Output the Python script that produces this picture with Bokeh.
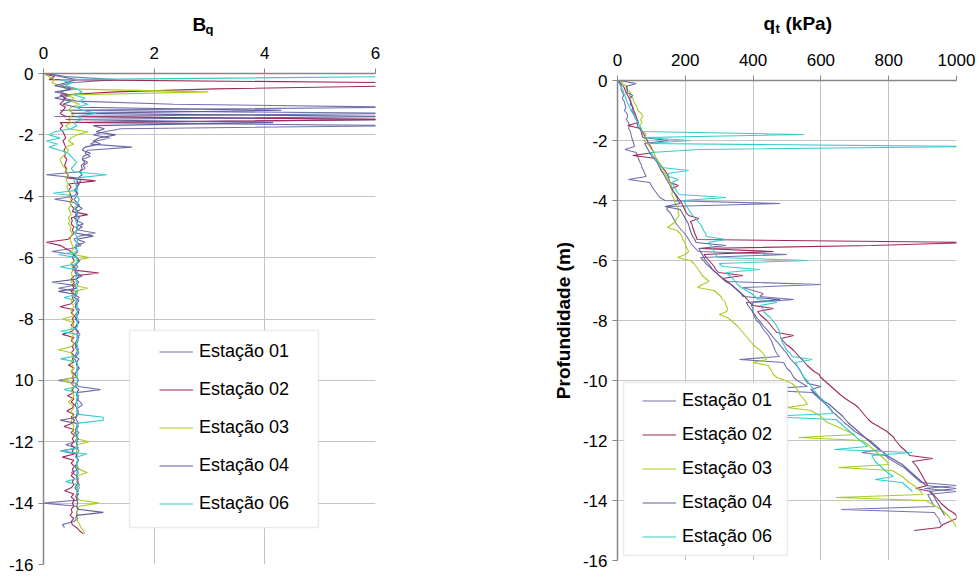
from bokeh.plotting import figure
from bokeh.layouts import row, column
from bokeh.models import Range1d, FixedTicker, Legend, LegendItem, Label, BoxAnnotation
from bokeh.embed import file_html
from bokeh.resources import INLINE

# ---------------- data ----------------
STATIONS = ["Estação 01", "Estação 02", "Estação 03", "Estação 04", "Estação 06"]

DEPTH_M = [
    0.0, 0.1, 0.2, 0.3, 0.4, 0.5, 0.6, 0.7, 0.8, 0.9,
    1.0, 1.1, 1.2, 1.3, 1.4, 1.5, 1.6, 1.7, 1.8, 1.9,
    2.0, 2.1, 2.2, 2.3, 2.4, 2.5, 2.6, 2.7, 2.8, 2.9,
    3.0, 3.1, 3.2, 3.3, 3.4, 3.5, 3.6, 3.7, 3.8, 3.9,
    4.0, 4.1, 4.2, 4.3, 4.4, 4.5, 4.6, 4.7, 4.8, 4.9,
    5.0, 5.1, 5.2, 5.3, 5.4, 5.5, 5.6, 5.7, 5.8, 5.9,
    6.0, 6.1, 6.2, 6.3, 6.4, 6.5, 6.6, 6.7, 6.8, 6.9,
    7.0, 7.1, 7.2, 7.3, 7.4, 7.5, 7.6, 7.7, 7.8, 7.9,
    8.0, 8.1, 8.2, 8.3, 8.4, 8.5, 8.6, 8.7, 8.8, 8.9,
    9.0, 9.1, 9.2, 9.3, 9.4, 9.5, 9.6, 9.7, 9.8, 9.9,
    10.0, 10.1, 10.2, 10.3, 10.4, 10.5, 10.6, 10.7, 10.8, 10.9,
    11.0, 11.1, 11.2, 11.3, 11.4, 11.5, 11.6, 11.7, 11.8, 11.9,
    12.0, 12.1, 12.2, 12.3, 12.4, 12.5, 12.6, 12.7, 12.8, 12.9,
    13.0, 13.1, 13.2, 13.3, 13.4, 13.5, 13.6, 13.7, 13.8, 13.9,
    14.0, 14.1, 14.2, 14.3, 14.4, 14.5, 14.6, 14.7, 14.8, 14.9,
    15.0,
]

# Bq (pore pressure ratio) per station
BQ_01 = [
    0.05, 0.4, 1.3, 0.5, 0.3, 0.6, 0.2, 0.5, 0.35, 0.6,
    2.35, 6.5, 0.3, 6.5, 0.2, 6.5, 0.8, 6.5, 1.4, 1.1,
    0.9, 1.2, 0.95, 0.85, 1.6, 0.8, 0.75, 0.85, 0.7, 0.8,
    0.72, 0.75, 0.65, 0.05, 0.6, 0.68, 0.6, 0.62, 0.55, 0.6,
    0.55, 0.2, 0.55, 0.62, 0.7, 0.6, 0.58, 0.65, 0.6, 0.72,
    0.58, 0.62, 0.94, 0.65, 0.55, 0.6, 0.68, 0.5, 0.15, 0.55,
    0.6, 0.66, 0.58, 0.62, 0.55, 0.6, 0.7, 0.58, 0.64, 0.55,
    0.27, 0.6, 0.56, 0.64, 0.6, 0.57, 0.6, 0.65, 0.6, 0.56,
    0.6, 0.64, 0.6, 0.57, 0.6, 0.66, 0.6, 0.63, 0.6, 0.57,
    0.6, 0.64, 0.6, 0.56, 0.6, 0.6, 0.65, 0.6, 0.57, 0.6,
    0.27, 0.6, 0.63, 1.03, 0.6, 0.64, 0.6, 0.66, 0.7, 0.62,
    0.6, 0.64, 0.57, 0.6, 0.63, 0.6, 0.58, 0.64, 0.6, 0.6,
    0.57, 0.4, 0.6, 0.64, 0.6, 0.58, 0.63, 0.6, 0.6, 0.64,
    0.5, 0.6, 0.63, 0.6, 0.65, 0.6, 0.63, 0.6, 0.58, 0.63,
    0.0, 0.6, 0.63, 0.6, 0.6, 0.62, 0.55, 0.34, 0.38,
]
BQ_02 = [
    0.0, 0.2, 0.1, 6.5, 6.5, 3.1, 1.3, 0.3, 0.4, 0.35,
    0.3, 0.4, 0.35, 0.3, 0.4, 6.5, 0.3, 0.35, 0.3, 0.35,
    0.38, 0.4, 0.35, 0.38, 0.4, 0.37, 0.4, 0.38, 0.42, 0.4,
    0.38, 0.42, 0.4, 0.45, 0.42, 0.94, 0.45, 0.5, 0.45, 0.48,
    0.5, 0.52, 0.48, 0.5, 0.55, 0.52, 0.8, 0.5, 0.52, 0.5,
    0.55, 0.52, 0.55, 0.5, 0.45, 0.05, 0.3, 0.4, 0.5, 0.55,
    0.52, 0.56, 0.5, 0.55, 0.52, 1.0, 0.55, 0.5, 0.56, 0.52,
    0.55, 0.5, 0.56, 0.52, 0.55, 0.5, 0.3, 0.55, 0.5, 0.56,
    0.52, 0.55, 0.5, 0.56, 0.52, 0.34, 0.55, 0.5, 0.56, 0.52,
    0.55, 0.5, 0.56, 0.52, 0.55, 0.45, 0.55, 0.5, 0.56, 0.52,
    0.55, 0.5, 0.56, 0.52, 0.55, 0.43, 0.55, 0.5, 0.56, 0.52,
    0.42, 0.55, 0.5, 0.56, 0.52, 0.37, 0.55, 0.5, 0.56, 0.52,
    0.55, 0.5, 0.56, 0.52, 0.55, 0.34, 0.55, 0.5, 0.56, 0.52,
    0.55, 0.5, 0.56, 0.52, 0.55, 0.5, 0.38, 0.55, 0.5, 0.56,
    0.52, 0.55, 0.5, 0.52, 0.48, 0.55, 0.5, 0.52, 0.6, 0.65,
    0.72,
]
BQ_03 = [
    0.0, 0.1, 0.2, 0.15, 0.3, 0.4, 2.98, 0.4, 0.55, 0.5,
    0.65, 0.5, 0.45, 0.55, 0.5, 0.45, 0.5, 0.4, 0.45, 0.8,
    0.6, 0.5, 0.45, 0.55, 0.4, 0.45, 0.4, 0.35, 0.3, 0.32,
    0.35, 0.4, 0.42, 0.45, 0.4, 0.42, 0.45, 0.42, 0.45, 0.48,
    0.45, 0.5, 0.48, 0.5, 0.45, 0.48, 0.5, 0.45, 0.48, 0.45,
    0.5, 0.48, 0.52, 0.5, 0.48, 0.5, 0.52, 0.55, 0.5, 0.55,
    0.82, 0.55, 0.5, 0.52, 0.55, 0.5, 0.52, 0.55, 0.5, 0.55,
    0.8, 0.55, 0.52, 0.55, 0.5, 0.52, 0.55, 0.5, 0.52, 0.55,
    0.34, 0.52, 0.55, 0.5, 0.52, 0.55, 0.5, 0.52, 0.55, 0.5,
    0.27, 0.5, 0.52, 0.55, 0.5, 0.52, 0.55, 0.5, 0.52, 0.55,
    0.34, 0.52, 0.55, 0.5, 0.52, 0.55, 0.52, 0.45, 0.52, 0.55,
    0.5, 0.52, 0.55, 0.5, 0.52, 0.55, 0.52, 0.55, 0.58, 0.6,
    0.82, 0.6, 0.58, 0.6, 0.62, 0.6, 0.62, 0.6, 0.62, 0.65,
    0.79, 0.62, 0.6, 0.62, 0.6, 0.62, 0.6, 0.62, 0.6, 0.65,
    1.0, 0.65, 0.62, 0.6, 0.62, 0.6, 0.62, 0.65, 0.68, 0.72,
    0.75,
]
BQ_04 = [
    0.05, 0.3, 0.6, 0.4, 0.2, 0.5, 0.3, 0.45, 0.2, 0.5,
    0.35, 0.6, 4.3, 0.5, 6.5, 0.4, 4.15, 0.9, 1.1, 0.95,
    1.3, 1.0, 0.9, 1.03, 0.75, 0.7, 0.85, 0.72, 0.7, 0.75,
    0.68, 0.7, 0.65, 0.7, 0.62, 0.6, 0.65, 0.6, 0.58, 0.62,
    0.6, 0.55, 0.6, 0.65, 0.58, 0.62, 0.6, 0.55, 0.62, 0.6,
    0.7, 0.6, 0.58, 0.9, 0.6, 0.75, 0.6, 0.58, 0.62, 0.55,
    0.6, 0.64, 0.6, 0.55, 0.6, 0.57, 0.64, 0.6, 0.15, 0.55,
    0.6, 0.27, 0.6, 0.56, 0.64, 0.6, 0.57, 0.6, 0.64, 0.6,
    0.57, 0.64, 0.6, 0.56, 0.63, 0.6, 0.64, 0.6, 0.57, 0.6,
    0.63, 0.6, 0.57, 0.64, 0.6, 0.6, 0.63, 0.6, 0.57, 0.6,
    0.63, 0.6, 0.57, 0.64, 0.6, 0.6, 0.63, 0.6, 0.57, 0.6,
    0.63, 0.6, 0.6, 0.3, 0.6, 0.63, 0.6, 0.57, 0.6, 0.63,
    0.6, 0.6, 0.63, 0.31, 0.6, 0.6, 0.63, 0.6, 0.57, 0.6,
    0.63, 0.6, 0.6, 0.63, 0.6, 0.57, 0.6, 0.63, 0.6, 0.6,
    0.62, 0.6, 0.62, 1.08, 0.6, 0.58,
]
BQ_06 = [
    6.5, 6.5, 0.3, 0.5, 0.4, 0.6, 0.7, 0.55, 0.75, 0.65,
    0.8, 0.6, 0.7, 0.95, 0.6, 0.7, 0.55, 0.6, 0.5, 0.2,
    0.1, 0.3, 0.05, 0.25, 0.1, 0.3, 0.45, 0.5, 0.55, 0.6,
    0.55, 0.5, 0.55, 1.14, 0.6, 0.55, 0.58, 0.6, 0.62, 0.18,
    0.6, 0.65, 0.62, 0.6, 0.55, 0.6, 0.62, 0.6, 0.58, 0.6,
    0.62, 0.6, 0.55, 0.6, 0.62, 0.6, 0.58, 0.6, 0.62, 0.27,
    0.6, 0.62, 0.6, 0.3, 0.6, 0.62, 0.6, 0.58, 0.6, 0.62,
    0.6, 0.62, 0.6, 0.37, 0.6, 0.62, 0.6, 0.62, 0.6, 0.6,
    0.62, 0.6, 0.62, 0.6, 0.31, 0.6, 0.62, 0.6, 0.6, 0.62,
    0.6, 0.62, 0.6, 0.31, 0.6, 0.62, 0.6, 0.6, 0.62, 0.6,
    0.62, 0.6, 0.6, 0.37, 0.6, 0.62, 0.6, 0.6, 0.62, 0.6,
    0.62, 0.6, 1.08, 1.08, 0.6, 0.62, 0.6, 0.6, 0.62, 0.6,
    0.62, 0.6, 0.62, 0.31, 0.79, 0.6, 0.62, 0.6, 0.6, 0.62,
    0.6, 0.62, 0.6, 0.4, 0.62, 0.65, 0.6, 0.62,
]

# qt (corrected cone resistance, kPa) per station
QT_01 = [
    2, 8, 12, 10, 15, 18, 14, 20, 22, 25,
    20, 28, 30, 26, 32, 35, 33, 38, 40, 42,
    45, 48, 50, 22, 55, 58, 62, 65, 70, 72,
    77, 80, 85, 32, 95, 100, 105, 112, 118, 125,
    140, 480, 150, 145, 155, 160, 165, 170, 175, 182,
    190, 198, 205, 210, 215, 222, 230, 238, 500, 245,
    254, 260, 270, 280, 290, 300, 310, 320, 600, 370,
    400, 430, 420, 520, 400, 395, 400, 398, 402, 405,
    410, 420, 425, 430, 438, 445, 450, 455, 458, 462,
    465, 470, 478, 360, 490, 495, 500, 510, 515, 520,
    530, 545, 560, 390, 575, 585, 595, 605, 615, 625,
    632, 640, 650, 660, 668, 680, 690, 700, 715, 730,
    745, 755, 765, 775, 720, 790, 800, 815, 830, 845,
    855, 865, 875, 885, 895, 1000, 905, 1000, 915, 920,
    925, 930, 935, 660, 935, 940, 948, 950, 955,
]
QT_02 = [
    3, 10, 18, 22, 25, 30, 35, 38, 42, 45,
    48, 52, 55, 58, 62, 30, 68, 72, 78, 82,
    88, 92, 98, 102, 108, 45, 115, 120, 125, 130,
    140, 145, 150, 152, 155, 180, 160, 165, 172, 178,
    185, 190, 195, 198, 202, 210, 240, 215, 220, 222,
    225, 228, 232, 235, 1050, 750, 245, 460, 255, 262,
    270, 278, 285, 290, 298, 370, 310, 320, 335, 345,
    355, 365, 375, 383, 390, 400, 460, 413, 420, 430,
    440, 448, 455, 462, 470, 520, 482, 490, 498, 510,
    520, 528, 535, 545, 552, 560, 570, 580, 595, 600,
    610, 620, 630, 640, 650, 660, 672, 685, 700, 710,
    718, 725, 732, 740, 750, 765, 780, 795, 805, 815,
    820, 828, 835, 845, 855, 862, 930, 870, 878, 885,
    890, 895, 900, 905, 910, 915, 880, 925, 932, 940,
    948, 955, 965, 975, 990, 1000, 1000, 980, 960, 950,
    875,
]
QT_03 = [
    10, 15, 30, 25, 40, 35, 45, 48, 52, 58,
    60, 70, 75, 68, 72, 65, 70, 75, 85, 80,
    78, 88, 95, 100, 108, 110, 115, 120, 128, 135,
    130, 140, 145, 150, 155, 160, 158, 162, 160, 165,
    168, 170, 175, 180, 178, 182, 175, 170, 160, 147,
    175, 185, 190, 192, 198, 202, 205, 210, 200, 177,
    215, 225, 232, 238, 245, 250, 260, 270, 250, 236,
    285, 295, 305, 310, 318, 320, 325, 322, 300, 324,
    335, 345, 355, 362, 370, 378, 385, 392, 400, 410,
    422, 430, 435, 440, 400, 445, 450, 455, 460, 470,
    495, 515, 525, 530, 535, 540, 548, 555, 560, 500,
    570, 585, 600, 608, 620, 640, 660, 680, 700, 534,
    720, 735, 745, 755, 765, 775, 785, 795, 800, 652,
    810, 825, 840, 850, 860, 875, 885, 895, 900, 643,
    910, 925, 940, 955, 965, 975, 982, 990, 995, 1000,
]
QT_04 = [
    5, 55, 25, 30, 28, 45, 35, 40, 38, 45,
    42, 48, 50, 55, 60, 58, 65, 70, 72, 75,
    150, 80, 85, 90, 95, 100, 108, 115, 120, 125,
    128, 135, 140, 145, 150, 155, 160, 165, 170, 175,
    178, 185, 140, 185, 190, 195, 200, 205, 210, 212,
    215, 218, 222, 228, 232, 320, 240, 245, 250, 255,
    260, 268, 275, 280, 290, 300, 310, 325, 335, 345,
    355, 365, 370, 480, 380, 385, 392, 398, 405, 410,
    418, 425, 432, 440, 448, 455, 462, 470, 478, 485,
    492, 500, 505, 512, 520, 528, 535, 540, 545, 550,
    555, 562, 600, 570, 580, 590, 600, 610, 625, 635,
    645, 655, 665, 672, 680, 690, 700, 710, 720, 730,
    740, 750, 760, 772, 785, 795, 810, 825, 840, 850,
    860, 870, 880, 890, 900, 910, 1000, 920, 930, 935,
    940, 945, 950, 955, 960, 965,
]
QT_06 = [
    0, 5, 10, 15, 18, 22, 25, 28, 32, 36,
    40, 45, 50, 55, 60, 65, 70, 72, 550, 80,
    215, 85, 1050, 240, 98, 105, 110, 118, 125, 130,
    210, 148, 152, 180, 160, 165, 170, 175, 182, 320,
    195, 200, 205, 210, 215, 222, 230, 238, 245, 250,
    254, 260, 262, 320, 268, 275, 280, 285, 290, 295,
    560, 300, 310, 420, 320, 330, 340, 348, 354, 365,
    380, 395, 405, 415, 470, 420, 428, 431, 440, 450,
    458, 465, 470, 475, 478, 480, 482, 485, 490, 495,
    500, 510, 515, 575, 525, 530, 535, 540, 545, 550,
    560, 565, 572, 578, 585, 592, 600, 608, 615, 622,
    630, 635, 437, 645, 655, 665, 675, 685, 695, 705,
    715, 728, 737, 640, 870, 750, 755, 760, 770, 780,
    790, 800, 814, 760, 840, 850, 860, 870,
]

BQ_SERIES = [BQ_01, BQ_02, BQ_03, BQ_04, BQ_06]
QT_SERIES = [QT_01, QT_02, QT_03, QT_04, QT_06]

DEPTH_TICKS = [0, -2, -4, -6, -8, -10, -12, -14, -16]
DEPTH_TICK_LABELS_LEFT = ["0", "-2", "-4", "-6", "-8", "10", "-12", "-14", "-16"]
DEPTH_TICK_LABELS_RIGHT = ["0", "-2", "-4", "-6", "-8", "-10", "-12", "-14", "-16"]
BQ_TICKS = [0, 2, 4, 6]
QT_TICKS = [0, 200, 400, 600, 800, 1000]

# ---------------- styling ----------------
FONT = "Liberation Sans"
COLORS = ["#7272AC", "#A0285A", "#A6CE1E", "#5F5F9D", "#33CCCC"]
AXIS_COLOR = "#878787"
GRID_COLOR = "#C4C4C4"
STRIP_H = 36
TOTAL_H = 576


def style(p, xticks, ylabels):
    p.xaxis.ticker = FixedTicker(ticks=xticks)
    p.yaxis.ticker = FixedTicker(ticks=DEPTH_TICKS)
    p.yaxis.major_label_overrides = {t: s for t, s in zip(DEPTH_TICKS, ylabels)}
    p.xgrid.ticker = FixedTicker(ticks=xticks)
    p.ygrid.ticker = FixedTicker(ticks=DEPTH_TICKS[:-1])
    for ax in (p.xaxis[0], p.yaxis[0]):
        ax.axis_line_color = AXIS_COLOR
        ax.axis_line_width = 1.5
        ax.major_tick_line_color = AXIS_COLOR
        ax.major_tick_in = 0
        ax.major_tick_out = 5
        ax.minor_tick_line_color = None
        ax.major_label_text_font = FONT
        ax.major_label_text_font_size = "17px"
        ax.major_label_text_color = "black"
    p.xaxis.major_label_standoff = 10
    p.yaxis.major_label_standoff = 5
    for g in (p.xgrid[0], p.ygrid[0]):
        g.grid_line_color = GRID_COLOR
        g.grid_line_width = 1
    p.outline_line_color = None
    p.background_fill_color = "white"
    p.border_fill_color = "white"


def add_legend(p, renderers, loc, spacing, box):
    left, right, bottom, top = box
    p.add_layout(BoxAnnotation(left=left, right=right, bottom=bottom, top=top,
                               left_units="screen", right_units="screen",
                               bottom_units="screen", top_units="screen",
                               fill_color="white", fill_alpha=1.0,
                               line_color="#BDBDBD", line_width=1.5))
    items = [LegendItem(label=n, renderers=[r]) for n, r in zip(STATIONS, renderers)]
    leg = Legend(items=items, location=loc, orientation="vertical",
                 padding=0, margin=0, spacing=spacing,
                 glyph_width=34, glyph_height=21, label_height=21, label_standoff=6,
                 label_text_font=FONT, label_text_font_size="18px",
                 label_text_color="black",
                 border_line_alpha=0, background_fill_alpha=0)
    p.add_layout(leg)


def title_strip(width, x_end, b_left, b_right, pieces, frame_left):
    """A thin figure above a panel holding its axis title (B_q / q_t (kPa)).
    pieces: (text, left pixel, vertical centre pixel from top, font size)."""
    s = figure(width=width, height=STRIP_H, x_range=Range1d(0, x_end), y_range=Range1d(0, STRIP_H),
               x_axis_location=None, y_axis_location=None, title_location=None,
               output_backend="svg", toolbar_location=None,
               min_border_left=b_left, min_border_right=b_right, min_border_top=0, min_border_bottom=0)
    s.grid.visible = False
    s.outline_line_color = None
    s.border_fill_color = "white"
    fw = width - b_left - b_right
    for txt, xpix, ymid, size in pieces:
        s.add_layout(Label(x=(xpix - frame_left) * x_end / fw, y=STRIP_H - ymid, text=txt,
                           text_font=FONT, text_font_size=size, text_font_style="bold",
                           text_baseline="middle", text_align="left", text_color="black"))
    return s


# ---------------- left: Bq ----------------
W1 = 428
s1 = title_strip(W1, 6, 43, 53, [("B", 192, 24, "19px"), ("q", 205, 29, "13px")], 43)
p1 = figure(width=W1, height=TOTAL_H - STRIP_H, x_range=Range1d(0, 6), y_range=Range1d(-16, 0),
            x_axis_location="above", output_backend="svg", toolbar_location=None,
            min_border_left=43, min_border_right=53, min_border_top=73 - STRIP_H, min_border_bottom=12)
style(p1, BQ_TICKS, DEPTH_TICK_LABELS_LEFT)
r1 = []
for vals, col in zip(BQ_SERIES, COLORS):
    ys = [-d for d in DEPTH_M[:len(vals)]]
    r1.append(p1.line(vals[:len(ys)], ys, line_color=col, line_width=1.1))
add_legend(p1, r1, (116, 50.5), 17, (86, 275, 37, 234))

# ---------------- right: qt ----------------
W2 = 979 - W1
s2 = title_strip(W2, 1000, 189, 23, [("q", 763, 23, "19px"), ("t", 775, 28, "13px"),
                                     ("(kPa)", 785, 23, "19px")], 617)
p2 = figure(width=W2, height=TOTAL_H - STRIP_H, x_range=Range1d(0, 1000), y_range=Range1d(-16, 0),
            x_axis_location="above", output_backend="svg", toolbar_location=None,
            min_border_left=189, min_border_right=23, min_border_top=80 - STRIP_H, min_border_bottom=16)
style(p2, QT_TICKS, DEPTH_TICK_LABELS_RIGHT)
p2.yaxis.axis_label = "Profundidade (m)"
p2.yaxis.axis_label_text_font = FONT
p2.yaxis.axis_label_text_font_size = "19px"
p2.yaxis.axis_label_text_font_style = "bold"
p2.yaxis.axis_label_text_color = "black"
p2.yaxis.axis_label_standoff = 6
r2 = []
for vals, col in zip(QT_SERIES, COLORS):
    ys = [-d for d in DEPTH_M[:len(vals)]]
    r2.append(p2.line(vals[:len(ys)], ys, line_color=col, line_width=1.1))
add_legend(p2, r2, (25, 13.5), 13, (6, 170, 5, 178))

layout = row(column(s1, p1), column(s2, p2))
open("out.html", "w").write(file_html(layout, INLINE))
